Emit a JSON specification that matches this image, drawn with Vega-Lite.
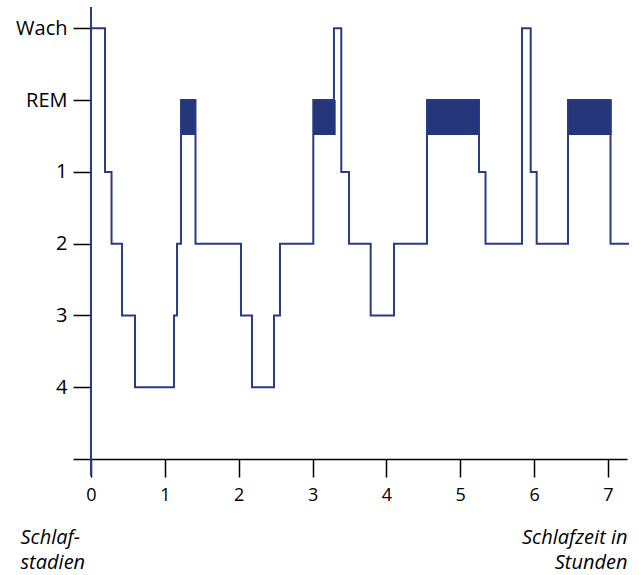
{
  "$schema": "https://vega.github.io/schema/vega-lite/v6.json",
  "autosize": {"type": "none"},
  "padding": {"left": 73, "top": 7, "right": 12, "bottom": 116},
  "width": 554,
  "height": 452,
  "background": "white",
  "config": {
    "view": {"stroke": null},
    "font": "Open Sans"
  },
  "datasets": {
    "hyp": [
      {"t": 0, "s": 0},
      {"t": 0.19, "s": 2},
      {"t": 0.278, "s": 3},
      {"t": 0.42, "s": 4},
      {"t": 0.596, "s": 5},
      {"t": 1.124, "s": 4},
      {"t": 1.165, "s": 3},
      {"t": 1.219, "s": 1},
      {"t": 1.415, "s": 3},
      {"t": 2.031, "s": 4},
      {"t": 2.18, "s": 5},
      {"t": 2.478, "s": 4},
      {"t": 2.559, "s": 3},
      {"t": 3.01, "s": 1},
      {"t": 3.29, "s": 0},
      {"t": 3.389, "s": 2},
      {"t": 3.494, "s": 3},
      {"t": 3.787, "s": 4},
      {"t": 4.103, "s": 3},
      {"t": 4.55, "s": 1},
      {"t": 5.254, "s": 2},
      {"t": 5.342, "s": 3},
      {"t": 5.836, "s": 0},
      {"t": 5.954, "s": 2},
      {"t": 6.035, "s": 3},
      {"t": 6.459, "s": 1},
      {"t": 7.035, "s": 3},
      {"t": 7.285, "s": 3}
    ],
    "rem": [
      {"start": 1.219, "end": 1.415},
      {"start": 3.01, "end": 3.313},
      {"start": 4.55, "end": 5.258},
      {"start": 6.459, "end": 7.051}
    ],
    "origin": [
      {"t": 0, "top": -0.297, "bottom": 6.235}
    ]
  },
  "layer": [
    {
      "data": {"name": "rem"},
      "mark": {"type": "rect", "color": "#24357a", "clip": false},
      "encoding": {
        "x": {"field": "start", "type": "quantitative"},
        "x2": {"field": "end"},
        "y": {"datum": 1, "type": "quantitative"},
        "y2": {"datum": 1.486}
      }
    },
    {
      "data": {"name": "hyp"},
      "mark": {"type": "line", "interpolate": "step-after", "color": "#2a3a86", "strokeWidth": 2, "clip": false},
      "encoding": {
        "x": {
          "field": "t", "type": "quantitative",
          "scale": {"domain": [-0.2437, 7.258], "nice": false, "zero": false},
          "axis": {
            "values": [0, 1, 2, 3, 4, 5, 6, 7],
            "format": "d",
            "grid": false,
            "domainColor": "black",
            "domainWidth": 1.5,
            "tickColor": "black",
            "tickWidth": 1.5,
            "tickSize": 18,
            "labelFontSize": 18,
            "labelColor": "black",
            "labelPadding": 9,
            "labelFont": "Open Sans",
            "title": ["Schlafzeit in", "Stunden"],
            "titleFont": "Open Sans",
            "titleFontStyle": "italic",
            "titleFontWeight": "normal",
            "titleFontSize": 20,
            "titleColor": "black",
            "titleAlign": "right",
            "titleBaseline": "top",
            "titleLineHeight": 25,
            "titleX": 554,
            "titleY": 68
          }
        },
        "y": {
          "field": "s", "type": "quantitative",
          "scale": {"domain": [-0.297, 6], "reverse": true, "nice": false, "zero": false},
          "axis": {
            "values": [0, 1, 2, 3, 4, 5],
            "labelExpr": "['Wach','REM','1','2','3','4'][datum.value]",
            "grid": false,
            "domain": false,
            "offset": -18,
            "tickColor": "black",
            "tickWidth": 1.5,
            "tickSize": 18,
            "labelFontSize": 20,
            "labelColor": "black",
            "labelPadding": 6,
            "labelFont": "Open Sans",
            "title": ["Schlaf-", "stadien"],
            "titleFont": "Open Sans",
            "titleFontStyle": "italic",
            "titleFontWeight": "normal",
            "titleFontSize": 20,
            "titleColor": "black",
            "titleAngle": 0,
            "titleAlign": "left",
            "titleBaseline": "top",
            "titleLineHeight": 25,
            "titleX": -71,
            "titleY": 520
          }
        }
      }
    },
    {
      "data": {"name": "origin"},
      "mark": {"type": "rule", "color": "#2a3a86", "strokeWidth": 2, "clip": false},
      "encoding": {
        "x": {"field": "t", "type": "quantitative"},
        "y": {"field": "top", "type": "quantitative"},
        "y2": {"field": "bottom"}
      }
    }
  ]
}
